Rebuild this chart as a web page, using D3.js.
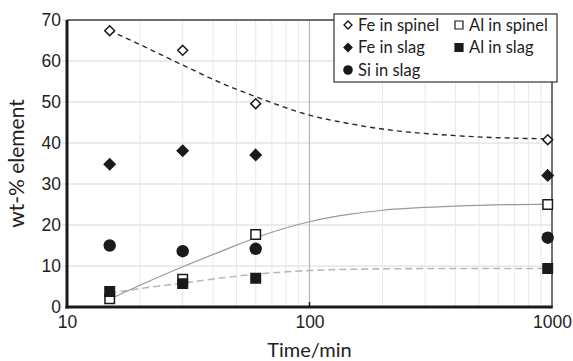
<!DOCTYPE html>
<html>
<head>
<meta charset="utf-8">
<script src="https://cdn.jsdelivr.net/npm/d3@7"></script>
<style>
  body { margin: 0; background: #fff; }
  svg { display: block; font-family: Lato, "Open Sans", sans-serif; }
</style>
</head>
<body>
<svg id="chart" width="573" height="361"></svg>
<script>
// measured times (min)
const times = [15, 30, 60, 960];
const feSpinel = [67.4, 62.6, 49.6, 40.8];
const feSlag = [34.8, 38.1, 37.1, 32.1];
const siSlag = [15.0, 13.6, 14.2, 16.9];
const alSpinel = [2.0, 6.8, 17.7, 25.0];
const alSlag = [3.8, 5.7, 7.0, 9.4];

// fitted trend lines
const fitTimes = [15, 20, 30, 45, 60, 100, 150, 200, 400, 960];
const feSpinelFit = [67.4, 64.0, 59.0, 54.2, 51.3, 46.8, 44.6, 43.4, 41.8, 41.0];
const alSpinelFit = [1.9, 5.3, 9.8, 14.0, 16.9, 20.8, 22.7, 23.6, 24.6, 25.1];
const alSlagFit = [3.3, 4.5, 5.8, 7.2, 8.0, 8.9, 9.2, 9.3, 9.4, 9.4];

const yTicks = [0, 10, 20, 30, 40, 50, 60, 70];
const xTicks = [10, 100, 1000];

const svg = d3.select('#chart');
const margin = { top: 20, right: 21, bottom: 54, left: 67 };
const width = +svg.attr('width');
const height = +svg.attr('height');
const innerWidth = width - margin.left - margin.right;
const innerHeight = height - margin.top - margin.bottom;

const x = d3.scaleLog().domain([10, 1000]).range([0, innerWidth]);
const y = d3.scaleLinear().domain([0, 70]).range([innerHeight, 0]);

const g = svg.append('g')
  .attr('transform', `translate(${margin.left},${margin.top})`);

// minor log gridlines
const minor = x.ticks().filter(t => !xTicks.includes(t));
g.append('g').selectAll('line')
  .data(minor)
  .join('line')
  .attr('x1', d => x(d)).attr('x2', d => x(d))
  .attr('y1', 0).attr('y2', innerHeight)
  .attr('stroke', '#e9e9e9').attr('stroke-width', 1);

// horizontal gridlines
g.append('g').selectAll('line')
  .data(yTicks.slice(1))
  .join('line')
  .attr('x1', -5).attr('x2', innerWidth)
  .attr('y1', d => y(d)).attr('y2', d => y(d))
  .attr('stroke', '#e4e4e4').attr('stroke-width', 1.3);

// major gridline at 100
g.append('line')
  .attr('x1', x(100)).attr('x2', x(100))
  .attr('y1', 0).attr('y2', innerHeight)
  .attr('stroke', '#b4b4b4').attr('stroke-width', 1.2);

// axes
const yAxis = g.append('g')
  .call(d3.axisLeft(y).tickValues(yTicks).tickSize(0).tickPadding(6));
yAxis.select('.domain').remove();
yAxis.selectAll('text').attr('font-size', 17.5).attr('fill', '#222');

const xAxis = g.append('g')
  .attr('transform', `translate(0,${innerHeight})`)
  .call(d3.axisBottom(x).tickValues(xTicks).tickFormat(d3.format('d')).tickSize(0).tickPadding(9));
xAxis.select('.domain').remove();
xAxis.selectAll('text').attr('font-size', 17.5).attr('fill', '#222');

// frame
g.append('line').attr('x1', 0).attr('x2', innerWidth).attr('y1', 0).attr('y2', 0)
  .attr('stroke', '#444').attr('stroke-width', 1.5);
g.append('line').attr('x1', innerWidth).attr('x2', innerWidth).attr('y1', 0).attr('y2', innerHeight)
  .attr('stroke', '#444').attr('stroke-width', 1.5);
g.append('line').attr('x1', 0).attr('x2', 0).attr('y1', 0).attr('y2', innerHeight + 1.5)
  .attr('stroke', '#1a1a1a').attr('stroke-width', 3);
g.append('line').attr('x1', -1.5).attr('x2', innerWidth + 0.75).attr('y1', innerHeight).attr('y2', innerHeight)
  .attr('stroke', '#1a1a1a').attr('stroke-width', 3);
g.append('line').attr('x1', x(100)).attr('x2', x(100)).attr('y1', innerHeight - 5).attr('y2', innerHeight)
  .attr('stroke', '#1a1a1a').attr('stroke-width', 1.5);

// fitted lines
const line = d3.line()
  .x((d, i) => x(fitTimes[i]))
  .y(d => y(d))
  .curve(d3.curveMonotoneX);

g.append('path').datum(alSlagFit)
  .attr('fill', 'none').attr('stroke', '#b8b8b8').attr('stroke-width', 1.6)
  .attr('stroke-dasharray', '7,4').attr('d', line);
g.append('path').datum(alSpinelFit)
  .attr('fill', 'none').attr('stroke', '#999').attr('stroke-width', 1.2)
  .attr('d', line);
g.append('path').datum(feSpinelFit)
  .attr('fill', 'none').attr('stroke', '#2a2a2a').attr('stroke-width', 1.4)
  .attr('stroke-dasharray', '5,4').attr('d', line);

// markers
const ink = '#1a1a1a';
const diamond = d3.symbol().type(d3.symbolDiamond2);
const square = d3.symbol().type(d3.symbolSquare);

function drawPoints(vals, gen, size, fill, stroke) {
  g.append('g').selectAll('path')
    .data(vals)
    .join('path')
    .attr('transform', (d, i) => `translate(${x(times[i])},${y(d)})`)
    .attr('d', gen.size(size)())
    .attr('fill', fill)
    .attr('stroke', stroke)
    .attr('stroke-width', 1.5);
}

drawPoints(feSpinel, diamond, 62, '#fff', ink);
drawPoints(feSlag, diamond, 76, ink, ink);
drawPoints(alSpinel, square, 90, '#fff', ink);
drawPoints(alSlag, square, 90, ink, ink);

g.append('g').selectAll('circle')
  .data(siSlag)
  .join('circle')
  .attr('cx', (d, i) => x(times[i]))
  .attr('cy', d => y(d))
  .attr('r', 6.2)
  .attr('fill', ink);

// axis titles
svg.append('text')
  .attr('x', margin.left + x(100))
  .attr('y', 357)
  .attr('text-anchor', 'middle')
  .attr('font-size', 20)
  .attr('fill', '#222')
  .text('Time/min');

svg.append('text')
  .attr('transform', `translate(24,${margin.top + innerHeight / 2}) rotate(-90)`)
  .attr('text-anchor', 'middle')
  .attr('font-size', 21)
  .attr('fill', '#222')
  .text('wt-% element');

// legend
const legend = svg.append('g').attr('transform', 'translate(334,14)');
legend.append('rect')
  .attr('width', 223).attr('height', 68)
  .attr('fill', '#fff').attr('stroke', '#333').attr('stroke-width', 1.2);

const legendItems = [
  { label: 'Fe in spinel', col: 0, row: 0, kind: 'diamond', fill: '#fff' },
  { label: 'Al in spinel', col: 1, row: 0, kind: 'square', fill: '#fff' },
  { label: 'Fe in slag', col: 0, row: 1, kind: 'diamond', fill: ink },
  { label: 'Al in slag', col: 1, row: 1, kind: 'square', fill: ink },
  { label: 'Si in slag', col: 0, row: 2, kind: 'circle', fill: ink }
];

const item = legend.selectAll('g.item')
  .data(legendItems)
  .join('g')
  .attr('class', 'item')
  .attr('transform', d => `translate(${d.col ? 125 : 14},${11 + d.row * 22.5})`);

item.filter(d => d.kind === 'diamond').append('path')
  .attr('d', d3.symbol().type(d3.symbolDiamond2).size(40)())
  .attr('fill', d => d.fill).attr('stroke', ink).attr('stroke-width', 1.4);
item.filter(d => d.kind === 'square').append('path')
  .attr('d', d3.symbol().type(d3.symbolSquare).size(64)())
  .attr('fill', d => d.fill).attr('stroke', ink).attr('stroke-width', 1.2);
item.filter(d => d.kind === 'circle').append('circle')
  .attr('r', 4.8).attr('fill', ink);

item.append('text')
  .attr('x', 10)
  .attr('dy', '0.35em')
  .attr('font-size', 16.5)
  .attr('fill', '#222')
  .text(d => d.label);
</script>
</body>
</html>
